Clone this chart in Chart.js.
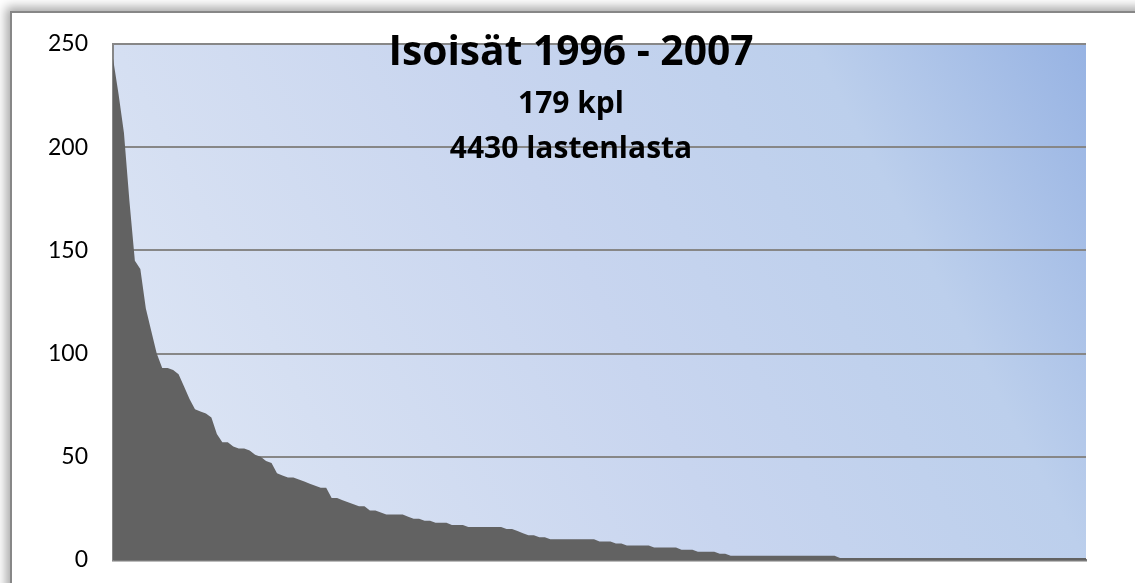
<!DOCTYPE html>
<html>
<head>
<meta charset="utf-8">
<script src="https://cdn.jsdelivr.net/npm/chart.js@4"></script>
<style>
    html, body { margin: 0; padding: 0; background: #ffffff; overflow: hidden; }
    body { width: 1135px; height: 583px; position: relative; }
    .frame {
        position: absolute;
        left: 10px;
        top: 11px;
        width: 1200px;
        height: 650px;
        background: #ffffff;
        border: 2px solid #878787;
        box-shadow: 0 0 10px 4px rgba(0, 0, 0, 0.35);
    }
    #chart { position: absolute; left: 0; top: 0; }
</style>
</head>
<body>
<div class="frame"></div>
<canvas id="chart" width="1135" height="583"></canvas>
<script>
// grandchildren per grandfather, sorted descending (179 grandfathers)
const grandchildren = [
    243, 226, 207, 174, 145, 141, 122, 111, 100, 93,
    93, 92, 90, 84, 78, 73, 72, 71, 69, 61,
    57, 57, 55, 54, 54, 53, 51, 50, 48, 47,
    42, 41, 40, 40, 39, 38, 37, 36, 35, 35,
    30, 30, 29, 28, 27, 26, 26, 24, 24, 23,
    22, 22, 22, 22, 21, 20, 20, 19, 19, 18,
    18, 18, 17, 17, 17, 16, 16, 16, 16, 16,
    16, 16, 15, 15, 14, 13, 12, 12, 11, 11,
    10, 10, 10, 10, 10, 10, 10, 10, 10, 9,
    9, 9, 8, 8, 7, 7, 7, 7, 7, 6,
    6, 6, 6, 6, 5, 5, 5, 4, 4, 4,
    4, 3, 3, 2, 2, 2, 2, 2, 2, 2,
    2, 2, 2, 2, 2, 2, 2, 2, 2, 2, 2, 2, 2,
    1, 1, 1, 1, 1, 1, 1, 1, 1, 1,
    1, 1, 1, 1, 1, 1, 1, 1, 1, 1,
    1, 1, 1, 1, 1, 1, 1, 1, 1, 1,
    1, 1, 1, 1, 1, 1, 1, 1, 1, 1,
    1, 1, 1, 1, 1, 1
];
const categories = grandchildren.map((v, i) => String(i + 1));
const yTicks = [0, 50, 100, 150, 200, 250];
const titleLines = ['Isoisät 1996 - 2007', '179 kpl', '4430 lastenlasta'];

// gradient behind the plot area
const plotBackground = {
    id: 'plotBackground',
    beforeDraw(chart) {
        const { ctx, chartArea: a } = chart;
        const g = ctx.createLinearGradient(a.left, a.bottom, a.right, a.top);
        g.addColorStop(0, '#e0e8f6');
        g.addColorStop(0.22, '#d5dff2');
        g.addColorStop(0.5, '#c8d5ef');
        g.addColorStop(0.78, '#bccfec');
        g.addColorStop(1, '#97b3e3');
        ctx.save();
        ctx.fillStyle = g;
        ctx.fillRect(a.left, a.top, a.right - a.left, a.bottom - a.top);
        ctx.restore();
    }
};

// three line title drawn over the plot
const titleBlock = {
    id: 'titleBlock',
    afterDraw(chart) {
        const ctx = chart.ctx;
        const cx = 571;
        const lines = [
            { text: titleLines[0], size: 42, y: 65, w: 365 },
            { text: titleLines[1], size: 30, y: 113, w: 110 },
            { text: titleLines[2], size: 30, y: 158, w: 248 }
        ];
        ctx.save();
        ctx.fillStyle = '#000000';
        ctx.textAlign = 'center';
        ctx.textBaseline = 'alphabetic';
        lines.forEach(l => {
            ctx.font = 'bold ' + l.size + 'px "Open Sans", Lato, sans-serif';
            ctx.fillText(l.text, cx, l.y, l.w);
        });
        ctx.restore();
    }
};

const ctx = document.getElementById('chart').getContext('2d');
new Chart(ctx, {
    type: 'line',
    data: {
        labels: categories,
        datasets: [{
            data: grandchildren,
            fill: 'origin',
            backgroundColor: '#626262',
            borderWidth: 0,
            pointRadius: 0,
            tension: 0
        }]
    },
    options: {
        responsive: false,
        animation: false,
        events: [],
        layout: { padding: { left: 0, top: 44, right: 49, bottom: 23 } },
        plugins: {
            legend: { display: false },
            tooltip: { enabled: false }
        },
        scales: {
            x: {
                offset: false,
                z: 1,
                grid: { display: false, drawTicks: false },
                border: { display: true, color: '#7a7a7a', width: 2.5 },
                ticks: { display: false },
                afterFit(scale) { scale.height = 0; }
            },
            y: {
                min: 0,
                max: 250,
                afterBuildTicks(scale) { scale.ticks = yTicks.map(v => ({ value: v })); },
                grid: {
                    color: '#878787',
                    lineWidth: 2,
                    drawTicks: true,
                    tickLength: 25,
                    tickColor: 'rgba(0,0,0,0)'
                },
                border: { display: true, color: '#878787', width: 2 },
                ticks: {
                    padding: 0,
                    color: '#000000',
                    font: { family: 'Lato, "Open Sans", sans-serif', size: 23 }
                },
                afterFit(scale) { scale.width = 113; }
            }
        }
    },
    plugins: [plotBackground, titleBlock]
});
</script>
</body>
</html>
